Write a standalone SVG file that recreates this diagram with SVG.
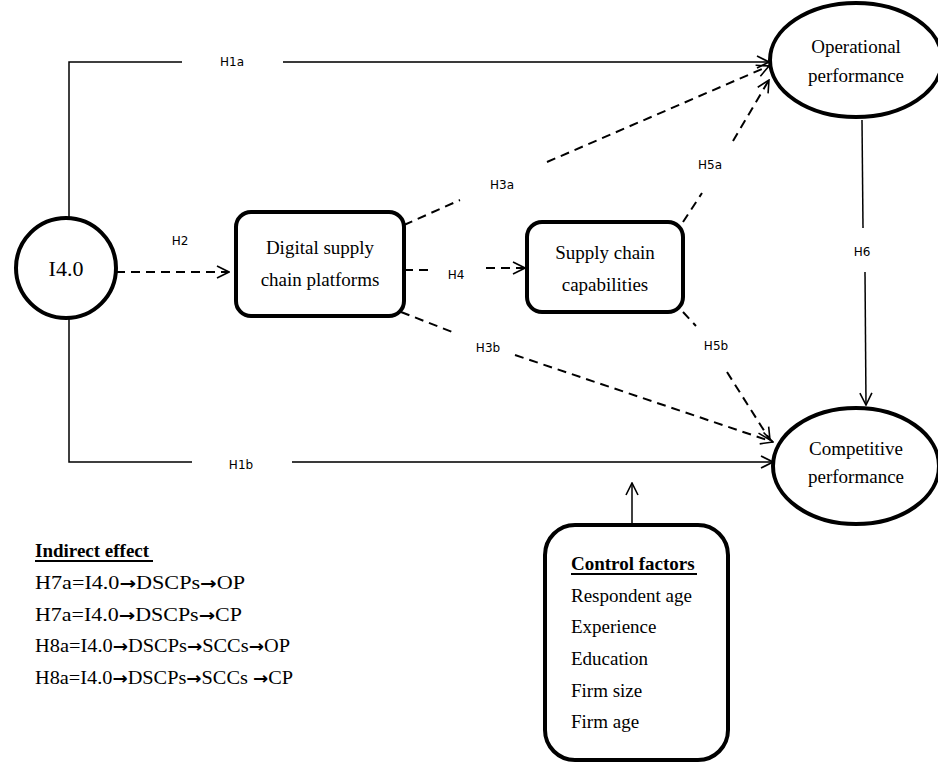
<svg xmlns="http://www.w3.org/2000/svg" width="938" height="763" viewBox="0 0 938 763">
<style>
.node{fill:#fff;stroke:#000;stroke-width:4}
.nt{font-family:"Liberation Serif",serif;font-size:19px;fill:#000;text-anchor:middle}
.lt{font-family:"Liberation Serif",serif;font-size:19px;fill:#000}
.hb{font-weight:bold}
.ar{font-family:"DejaVu Sans",sans-serif;font-weight:bold;font-size:17px}
.lab{font-family:"DejaVu Sans",sans-serif;font-size:12px;fill:#000;text-anchor:middle}
.solid{fill:none;stroke:#3a3a3a;stroke-width:2}
.thin{fill:none;stroke:#000;stroke-width:1.5}
.dash{fill:none;stroke:#000;stroke-width:2;stroke-dasharray:9,6}
</style>
<defs>
<marker id="ah" viewBox="0 0 14 14" refX="13" refY="7" markerWidth="14" markerHeight="14" markerUnits="userSpaceOnUse" orient="auto">
<path d="M1,1 L13,7 L1,13" fill="none" stroke="#000" stroke-width="1.6"/>
</marker>
</defs>
<g id="connectors">
<path class="thin" d="M69,218 V62 H182"/>
<path class="solid" d="M283,62 H769" marker-end="url(#ah)"/>
<path class="thin" d="M69,318 V462 H192"/>
<path class="solid" d="M292,462 H773" marker-end="url(#ah)"/>
<path class="dash" d="M116,272 H229" marker-end="url(#ah)"/>
<path class="dash" d="M404,270 H428"/>
<path class="dash" d="M486,268 H525" marker-end="url(#ah)"/>
<path class="dash" d="M404,225 L460,200"/>
<path class="dash" d="M547,162 L769,66" marker-end="url(#ah)"/>
<path class="dash" d="M683,222 L702,193"/>
<path class="dash" d="M733,141 L769,80" marker-end="url(#ah)"/>
<path class="dash" d="M401,312 L455,333"/>
<path class="dash" d="M515,355 L773,442" marker-end="url(#ah)"/>
<path class="dash" d="M683,312 L696,326"/>
<path class="dash" d="M727,372 L770,440" marker-end="url(#ah)"/>
<path class="thin" d="M862,120 L863,228"/>
<path class="thin" d="M865,272 L866,405" marker-end="url(#ah)"/>
<path class="thin" d="M632,525 V483" marker-end="url(#ah)"/>
<text class="lab" x="232" y="66">H1a</text>
<text class="lab" x="241" y="469">H1b</text>
<text class="lab" x="180" y="245">H2</text>
<text class="lab" x="456" y="279">H4</text>
<text class="lab" x="502" y="189">H3a</text>
<text class="lab" x="710" y="169">H5a</text>
<text class="lab" x="488" y="352">H3b</text>
<text class="lab" x="716" y="350">H5b</text>
<text class="lab" x="862" y="256">H6</text>
</g>
<g id="i40">
<circle class="node" cx="66" cy="268" r="50"/>
<text class="nt" x="66" y="276" style="font-size:22px">I4.0</text>
</g>
<g id="dscp">
<rect class="node" x="236" y="212" width="168" height="104" rx="15"/>
<text class="nt" x="320" y="254">Digital supply</text>
<text class="nt" x="320" y="286">chain platforms</text>
</g>
<g id="scc">
<rect class="node" x="527" y="222" width="156" height="90" rx="15"/>
<text class="nt" x="605" y="259">Supply chain</text>
<text class="nt" x="605" y="291">capabilities</text>
</g>
<g id="op">
<ellipse class="node" cx="856" cy="60" rx="86" ry="57"/>
<text class="nt" x="856" y="53">Operational</text>
<text class="nt" x="856" y="82">performance</text>
</g>
<g id="cp">
<ellipse class="node" cx="856" cy="466" rx="83" ry="58"/>
<text class="nt" x="856" y="455">Competitive</text>
<text class="nt" x="856" y="483">performance</text>
</g>
<g id="control">
<rect class="node" x="545" y="525" width="183" height="235" rx="30"/>
<text class="lt hb" x="571" y="570">Control factors</text>
<line x1="571" y1="574" x2="697" y2="574" stroke="#000" stroke-width="2"/>
<text class="lt" x="571" y="602">Respondent age</text>
<text class="lt" x="571" y="633">Experience</text>
<text class="lt" x="571" y="665">Education</text>
<text class="lt" x="571" y="697">Firm size</text>
<text class="lt" x="571" y="728">Firm age</text>
</g>
<g id="indirect">
<text class="lt hb" x="35" y="557">Indirect effect</text>
<line x1="35" y1="561" x2="153" y2="561" stroke="#000" stroke-width="2"/>
<text class="lt" x="35" y="589" textLength="210" lengthAdjust="spacingAndGlyphs">H7a=I4.0<tspan class="ar">→</tspan>DSCPs<tspan class="ar">→</tspan>OP</text>
<text class="lt" x="35" y="621" textLength="207" lengthAdjust="spacingAndGlyphs">H7a=I4.0<tspan class="ar">→</tspan>DSCPs<tspan class="ar">→</tspan>CP</text>
<text class="lt" x="35" y="652" textLength="255" lengthAdjust="spacingAndGlyphs">H8a=I4.0<tspan class="ar">→</tspan>DSCPs<tspan class="ar">→</tspan>SCCs<tspan class="ar">→</tspan>OP</text>
<text class="lt" x="35" y="684" textLength="258" lengthAdjust="spacingAndGlyphs">H8a=I4.0<tspan class="ar">→</tspan>DSCPs<tspan class="ar">→</tspan>SCCs <tspan class="ar">→</tspan>CP</text>
</g>
</svg>
